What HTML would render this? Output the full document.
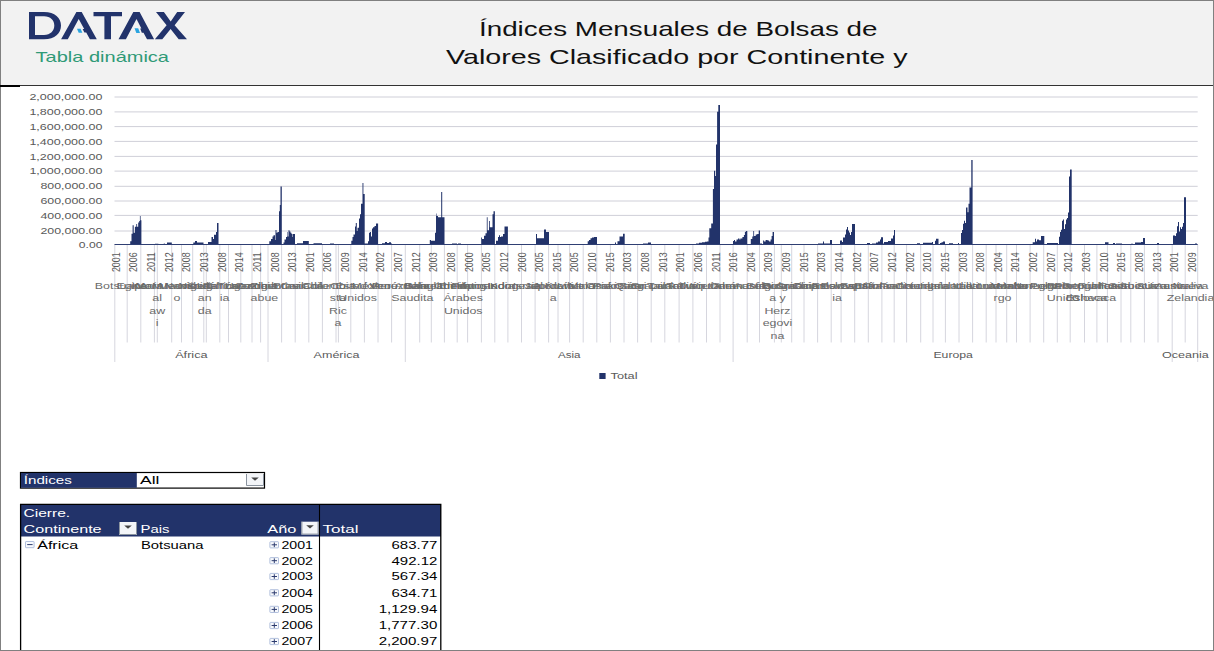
<!DOCTYPE html>
<html><head><meta charset="utf-8">
<style>
html,body{margin:0;padding:0;}
body{width:1214px;height:651px;overflow:hidden;position:relative;background:#fff;font-family:"Liberation Sans",sans-serif;}
svg text{font-family:"Liberation Sans",sans-serif;}
</style></head><body>
<svg width="1214" height="651" style="position:absolute;left:0;top:0">
<rect x="1" y="1" width="1212" height="84" fill="#f2f2f2"/>
<rect x="1" y="85" width="1212" height="1" fill="#333"/>

<text x="479.00" y="35.60" font-size="21" fill="#111" text-anchor="start" textLength="398.5" lengthAdjust="spacingAndGlyphs">Índices Mensuales de Bolsas de</text>
<text x="446.00" y="63.60" font-size="21" fill="#111" text-anchor="start" textLength="461.5" lengthAdjust="spacingAndGlyphs">Valores Clasificado por Continente y</text>
<path d="M29 12H44C55 12 61 18 61 25.6C61 33.5 55 39.3 44 39.3H29Z M35 16.3V35H44C50.5 35 54.3 31 54.3 25.6C54.3 20.2 50.5 16.3 44 16.3Z" fill="#22336b" fill-rule="evenodd"/>
<path d="M61.1 39.3L76.4 12H81.7L96.8 39.3H89.9L86.2 32.6H84.4L82.6 29H84.2L78.7 19L67.8 39.3Z" fill="#22336b"/>
<path d="M77 28.8H80.6L82.3 32.7H78.7Z" fill="#2aa4e0"/>
<path d="M93.5 11.9H122V16.2H111V39.3H104.4V16.2H93.5Z" fill="#22336b"/>
<path d="M118.5 39.3L133.3 12H139.6L154.1 39.3H147L143.5 32.8H141.8L140.2 28.4H141.4L136.5 19L125.9 39.3Z" fill="#22336b"/>
<path d="M134.5 28.3H138.2L140 33H136.3Z" fill="#2aa4e0"/>
<path d="M156 11.9H163.9L170.7 21.5L177.2 11.9H185L174.6 25.2L187 39.3H178.7L170.6 29L162.3 39.3H154.9L166.6 25.2Z" fill="#22336b"/>
<text x="35.60" y="61.90" font-size="15" fill="#2f9a77" text-anchor="start" textLength="133.4" lengthAdjust="spacingAndGlyphs">Tabla dinámica</text>
</svg>
<svg width="1214" height="651" style="position:absolute;left:0;top:0">
<line x1="114.5" x2="1197.7" y1="231.00" y2="231.00" stroke="#cfcfd8" stroke-width="1"/>
<line x1="114.5" x2="1197.7" y1="215.40" y2="215.40" stroke="#cfcfd8" stroke-width="1"/>
<line x1="114.5" x2="1197.7" y1="201.00" y2="201.00" stroke="#cfcfd8" stroke-width="1"/>
<line x1="114.5" x2="1197.7" y1="186.30" y2="186.30" stroke="#cfcfd8" stroke-width="1"/>
<line x1="114.5" x2="1197.7" y1="171.10" y2="171.10" stroke="#cfcfd8" stroke-width="1"/>
<line x1="114.5" x2="1197.7" y1="156.40" y2="156.40" stroke="#cfcfd8" stroke-width="1"/>
<line x1="114.5" x2="1197.7" y1="141.40" y2="141.40" stroke="#cfcfd8" stroke-width="1"/>
<line x1="114.5" x2="1197.7" y1="126.60" y2="126.60" stroke="#cfcfd8" stroke-width="1"/>
<line x1="114.5" x2="1197.7" y1="111.90" y2="111.90" stroke="#cfcfd8" stroke-width="1"/>
<line x1="114.5" x2="1197.7" y1="97.00" y2="97.00" stroke="#cfcfd8" stroke-width="1"/>
<line x1="127.2" x2="127.2" y1="244.5" y2="342.5" stroke="#d6d6de" stroke-width="1"/>
<line x1="140.8" x2="140.8" y1="244.5" y2="342.5" stroke="#d6d6de" stroke-width="1"/>
<line x1="154.4" x2="154.4" y1="244.5" y2="342.5" stroke="#d6d6de" stroke-width="1"/>
<line x1="157.3" x2="157.3" y1="244.5" y2="342.5" stroke="#d6d6de" stroke-width="1"/>
<line x1="171.7" x2="171.7" y1="244.5" y2="342.5" stroke="#d6d6de" stroke-width="1"/>
<line x1="181.5" x2="181.5" y1="244.5" y2="342.5" stroke="#d6d6de" stroke-width="1"/>
<line x1="192.7" x2="192.7" y1="244.5" y2="342.5" stroke="#d6d6de" stroke-width="1"/>
<line x1="203.8" x2="203.8" y1="244.5" y2="342.5" stroke="#d6d6de" stroke-width="1"/>
<line x1="206.3" x2="206.3" y1="244.5" y2="342.5" stroke="#d6d6de" stroke-width="1"/>
<line x1="219.8" x2="219.8" y1="244.5" y2="342.5" stroke="#d6d6de" stroke-width="1"/>
<line x1="228.5" x2="228.5" y1="244.5" y2="342.5" stroke="#d6d6de" stroke-width="1"/>
<line x1="240.8" x2="240.8" y1="244.5" y2="342.5" stroke="#d6d6de" stroke-width="1"/>
<line x1="252.0" x2="252.0" y1="244.5" y2="342.5" stroke="#d6d6de" stroke-width="1"/>
<line x1="260.6" x2="260.6" y1="244.5" y2="342.5" stroke="#d6d6de" stroke-width="1"/>
<line x1="281.6" x2="281.6" y1="244.5" y2="342.5" stroke="#d6d6de" stroke-width="1"/>
<line x1="295.2" x2="295.2" y1="244.5" y2="342.5" stroke="#d6d6de" stroke-width="1"/>
<line x1="308.8" x2="308.8" y1="244.5" y2="342.5" stroke="#d6d6de" stroke-width="1"/>
<line x1="322.4" x2="322.4" y1="244.5" y2="342.5" stroke="#d6d6de" stroke-width="1"/>
<line x1="336.0" x2="336.0" y1="244.5" y2="342.5" stroke="#d6d6de" stroke-width="1"/>
<line x1="338.4" x2="338.4" y1="244.5" y2="342.5" stroke="#d6d6de" stroke-width="1"/>
<line x1="350.8" x2="350.8" y1="244.5" y2="342.5" stroke="#d6d6de" stroke-width="1"/>
<line x1="364.4" x2="364.4" y1="244.5" y2="342.5" stroke="#d6d6de" stroke-width="1"/>
<line x1="378.0" x2="378.0" y1="244.5" y2="342.5" stroke="#d6d6de" stroke-width="1"/>
<line x1="391.6" x2="391.6" y1="244.5" y2="342.5" stroke="#d6d6de" stroke-width="1"/>
<line x1="419.7" x2="419.7" y1="244.5" y2="342.5" stroke="#d6d6de" stroke-width="1"/>
<line x1="431.3" x2="431.3" y1="244.5" y2="342.5" stroke="#d6d6de" stroke-width="1"/>
<line x1="444.4" x2="444.4" y1="244.5" y2="342.5" stroke="#d6d6de" stroke-width="1"/>
<line x1="457.2" x2="457.2" y1="244.5" y2="342.5" stroke="#d6d6de" stroke-width="1"/>
<line x1="467.6" x2="467.6" y1="244.5" y2="342.5" stroke="#d6d6de" stroke-width="1"/>
<line x1="481.4" x2="481.4" y1="244.5" y2="342.5" stroke="#d6d6de" stroke-width="1"/>
<line x1="494.8" x2="494.8" y1="244.5" y2="342.5" stroke="#d6d6de" stroke-width="1"/>
<line x1="507.9" x2="507.9" y1="244.5" y2="342.5" stroke="#d6d6de" stroke-width="1"/>
<line x1="521.5" x2="521.5" y1="244.5" y2="342.5" stroke="#d6d6de" stroke-width="1"/>
<line x1="535.1" x2="535.1" y1="244.5" y2="342.5" stroke="#d6d6de" stroke-width="1"/>
<line x1="548.6" x2="548.6" y1="244.5" y2="342.5" stroke="#d6d6de" stroke-width="1"/>
<line x1="558.0" x2="558.0" y1="244.5" y2="342.5" stroke="#d6d6de" stroke-width="1"/>
<line x1="569.6" x2="569.6" y1="244.5" y2="342.5" stroke="#d6d6de" stroke-width="1"/>
<line x1="583.2" x2="583.2" y1="244.5" y2="342.5" stroke="#d6d6de" stroke-width="1"/>
<line x1="596.8" x2="596.8" y1="244.5" y2="342.5" stroke="#d6d6de" stroke-width="1"/>
<line x1="610.4" x2="610.4" y1="244.5" y2="342.5" stroke="#d6d6de" stroke-width="1"/>
<line x1="624.0" x2="624.0" y1="244.5" y2="342.5" stroke="#d6d6de" stroke-width="1"/>
<line x1="637.6" x2="637.6" y1="244.5" y2="342.5" stroke="#d6d6de" stroke-width="1"/>
<line x1="651.2" x2="651.2" y1="244.5" y2="342.5" stroke="#d6d6de" stroke-width="1"/>
<line x1="664.8" x2="664.8" y1="244.5" y2="342.5" stroke="#d6d6de" stroke-width="1"/>
<line x1="679.1" x2="679.1" y1="244.5" y2="342.5" stroke="#d6d6de" stroke-width="1"/>
<line x1="692.9" x2="692.9" y1="244.5" y2="342.5" stroke="#d6d6de" stroke-width="1"/>
<line x1="706.5" x2="706.5" y1="244.5" y2="342.5" stroke="#d6d6de" stroke-width="1"/>
<line x1="720.0" x2="720.0" y1="244.5" y2="342.5" stroke="#d6d6de" stroke-width="1"/>
<line x1="747.2" x2="747.2" y1="244.5" y2="342.5" stroke="#d6d6de" stroke-width="1"/>
<line x1="759.5" x2="759.5" y1="244.5" y2="342.5" stroke="#d6d6de" stroke-width="1"/>
<line x1="774.4" x2="774.4" y1="244.5" y2="342.5" stroke="#d6d6de" stroke-width="1"/>
<line x1="781.3" x2="781.3" y1="244.5" y2="342.5" stroke="#d6d6de" stroke-width="1"/>
<line x1="791.7" x2="791.7" y1="244.5" y2="342.5" stroke="#d6d6de" stroke-width="1"/>
<line x1="804.0" x2="804.0" y1="244.5" y2="342.5" stroke="#d6d6de" stroke-width="1"/>
<line x1="817.6" x2="817.6" y1="244.5" y2="342.5" stroke="#d6d6de" stroke-width="1"/>
<line x1="831.2" x2="831.2" y1="244.5" y2="342.5" stroke="#d6d6de" stroke-width="1"/>
<line x1="841.1" x2="841.1" y1="244.5" y2="342.5" stroke="#d6d6de" stroke-width="1"/>
<line x1="854.7" x2="854.7" y1="244.5" y2="342.5" stroke="#d6d6de" stroke-width="1"/>
<line x1="868.3" x2="868.3" y1="244.5" y2="342.5" stroke="#d6d6de" stroke-width="1"/>
<line x1="881.9" x2="881.9" y1="244.5" y2="342.5" stroke="#d6d6de" stroke-width="1"/>
<line x1="894.2" x2="894.2" y1="244.5" y2="342.5" stroke="#d6d6de" stroke-width="1"/>
<line x1="906.6" x2="906.6" y1="244.5" y2="342.5" stroke="#d6d6de" stroke-width="1"/>
<line x1="920.7" x2="920.7" y1="244.5" y2="342.5" stroke="#d6d6de" stroke-width="1"/>
<line x1="933.0" x2="933.0" y1="244.5" y2="342.5" stroke="#d6d6de" stroke-width="1"/>
<line x1="945.4" x2="945.4" y1="244.5" y2="342.5" stroke="#d6d6de" stroke-width="1"/>
<line x1="959.0" x2="959.0" y1="244.5" y2="342.5" stroke="#d6d6de" stroke-width="1"/>
<line x1="972.6" x2="972.6" y1="244.5" y2="342.5" stroke="#d6d6de" stroke-width="1"/>
<line x1="986.2" x2="986.2" y1="244.5" y2="342.5" stroke="#d6d6de" stroke-width="1"/>
<line x1="996.0" x2="996.0" y1="244.5" y2="342.5" stroke="#d6d6de" stroke-width="1"/>
<line x1="1006.7" x2="1006.7" y1="244.5" y2="342.5" stroke="#d6d6de" stroke-width="1"/>
<line x1="1016.5" x2="1016.5" y1="244.5" y2="342.5" stroke="#d6d6de" stroke-width="1"/>
<line x1="1030.1" x2="1030.1" y1="244.5" y2="342.5" stroke="#d6d6de" stroke-width="1"/>
<line x1="1043.7" x2="1043.7" y1="244.5" y2="342.5" stroke="#d6d6de" stroke-width="1"/>
<line x1="1057.3" x2="1057.3" y1="244.5" y2="342.5" stroke="#d6d6de" stroke-width="1"/>
<line x1="1070.2" x2="1070.2" y1="244.5" y2="342.5" stroke="#d6d6de" stroke-width="1"/>
<line x1="1084.5" x2="1084.5" y1="244.5" y2="342.5" stroke="#d6d6de" stroke-width="1"/>
<line x1="1096.9" x2="1096.9" y1="244.5" y2="342.5" stroke="#d6d6de" stroke-width="1"/>
<line x1="1107.4" x2="1107.4" y1="244.5" y2="342.5" stroke="#d6d6de" stroke-width="1"/>
<line x1="1121.0" x2="1121.0" y1="244.5" y2="342.5" stroke="#d6d6de" stroke-width="1"/>
<line x1="1130.8" x2="1130.8" y1="244.5" y2="342.5" stroke="#d6d6de" stroke-width="1"/>
<line x1="1144.4" x2="1144.4" y1="244.5" y2="342.5" stroke="#d6d6de" stroke-width="1"/>
<line x1="1158.0" x2="1158.0" y1="244.5" y2="342.5" stroke="#d6d6de" stroke-width="1"/>
<line x1="1185.2" x2="1185.2" y1="244.5" y2="342.5" stroke="#d6d6de" stroke-width="1"/>
<line x1="114.8" x2="114.8" y1="244.5" y2="362" stroke="#d6d6de" stroke-width="1"/>
<line x1="268.0" x2="268.0" y1="244.5" y2="362" stroke="#d6d6de" stroke-width="1"/>
<line x1="405.3" x2="405.3" y1="244.5" y2="362" stroke="#d6d6de" stroke-width="1"/>
<line x1="733.1" x2="733.1" y1="244.5" y2="362" stroke="#d6d6de" stroke-width="1"/>
<line x1="1172.2" x2="1172.2" y1="244.5" y2="362" stroke="#d6d6de" stroke-width="1"/>
<line x1="1197.7" x2="1197.7" y1="244.5" y2="362" stroke="#d6d6de" stroke-width="1"/>
<path d="M130.2 244.5V241.3H131.5V244.5ZM131.5 244.5V233.8H132.6V244.5ZM132.6 244.5V225.2H133.7V244.5ZM133.7 244.5V232.7H134.9V244.5ZM134.9 244.5V226.8H136.3V244.5ZM136.3 244.5V224.1H137.1V244.5ZM137.1 244.5V226.8H138.2V244.5ZM138.2 244.5V222.5H139.2V244.5ZM139.2 244.5V220.9H139.9V244.5ZM139.9 244.5V216.0H140.6V244.5ZM140.6 244.5V220.3H141.4V244.5ZM155.0 244.5V243.7H158.4V244.5ZM163.8 244.5V243.5H164.8V244.5ZM167.0 244.5V242.4H171.8V244.5ZM193.3 244.5V242.5H195.0V244.5ZM195.0 244.5V241.0H197.0V244.5ZM197.0 244.5V242.5H203.5V244.5ZM208.0 244.5V242.0H211.5V244.5ZM211.5 244.5V237.0H213.0V244.5ZM213.0 244.5V239.0H214.0V244.5ZM214.0 244.5V234.8H216.0V244.5ZM216.0 244.5V232.0H217.0V244.5ZM217.0 244.5V223.0H218.5V244.5ZM269.3 244.5V241.3H271.0V244.5ZM271.0 244.5V238.9H272.5V244.5ZM272.5 244.5V236.4H273.5V244.5ZM273.5 244.5V235.2H275.0V244.5ZM275.0 244.5V240.0H275.5V244.5ZM275.5 244.5V230.0H276.5V244.5ZM276.5 244.5V232.7H277.5V244.5ZM277.5 244.5V232.1H279.0V244.5ZM279.0 244.5V211.2H279.8V244.5ZM279.8 244.5V205.0H280.5V244.5ZM280.5 244.5V186.6H281.8V244.5ZM283.5 244.5V242.5H284.5V244.5ZM284.5 244.5V239.5H286.0V244.5ZM286.0 244.5V237.0H287.0V244.5ZM287.0 244.5V232.0H287.5V244.5ZM287.5 244.5V236.4H288.5V244.5ZM288.5 244.5V230.2H289.5V244.5ZM289.5 244.5V231.5H290.5V244.5ZM290.5 244.5V232.7H291.5V244.5ZM291.5 244.5V234.0H292.5V244.5ZM292.5 244.5V237.0H293.0V244.5ZM293.0 244.5V234.0H295.0V244.5ZM297.0 244.5V243.2H303.0V244.5ZM303.0 244.5V241.0H308.8V244.5ZM313.5 244.5V243.2H322.0V244.5ZM330.0 244.5V243.4H334.0V244.5ZM351.3 244.5V240.7H352.5V244.5ZM352.5 244.5V237.0H353.5V244.5ZM353.5 244.5V234.5H355.0V244.5ZM355.0 244.5V226.6H355.8V244.5ZM355.8 244.5V222.9H356.8V244.5ZM356.8 244.5V230.9H357.5V244.5ZM357.5 244.5V227.8H359.0V244.5ZM359.0 244.5V218.6H360.0V244.5ZM360.0 244.5V214.3H361.0V244.5ZM361.0 244.5V203.8H362.5V244.5ZM362.5 244.5V182.9H363.4V244.5ZM363.4 244.5V194.0H364.7V244.5ZM364.7 244.5V243.4H368.0V244.5ZM368.0 244.5V241.3H369.0V244.5ZM369.0 244.5V232.7H370.0V244.5ZM370.0 244.5V232.1H371.0V244.5ZM371.0 244.5V236.4H372.0V244.5ZM372.0 244.5V228.4H373.0V244.5ZM373.0 244.5V227.2H374.5V244.5ZM374.5 244.5V226.0H376.0V244.5ZM376.0 244.5V223.5H378.1V244.5ZM382.0 244.5V243.2H385.0V244.5ZM385.0 244.5V242.0H387.0V244.5ZM387.0 244.5V243.0H389.0V244.5ZM389.0 244.5V242.3H391.0V244.5ZM391.0 244.5V243.4H392.0V244.5ZM429.8 244.5V240.0H431.0V244.5ZM431.0 244.5V240.7H435.0V244.5ZM435.0 244.5V232.7H436.0V244.5ZM436.0 244.5V213.6H436.5V244.5ZM436.5 244.5V216.0H438.0V244.5ZM438.0 244.5V217.3H441.2V244.5ZM441.2 244.5V192.0H442.2V244.5ZM442.2 244.5V217.3H444.5V244.5ZM452.0 244.5V243.5H457.0V244.5ZM455.0 244.5V243.5H456.5V244.5ZM458.0 244.5V243.6H461.0V244.5ZM481.2 244.5V237.6H482.0V244.5ZM482.0 244.5V238.9H484.0V244.5ZM484.0 244.5V235.8H485.5V244.5ZM485.5 244.5V233.3H486.8V244.5ZM486.8 244.5V217.3H487.6V244.5ZM487.6 244.5V230.2H489.0V244.5ZM489.0 244.5V221.0H489.8V244.5ZM489.8 244.5V227.2H492.5V244.5ZM492.5 244.5V214.3H493.5V244.5ZM493.5 244.5V211.2H494.9V244.5ZM496.0 244.5V240.7H498.0V244.5ZM498.0 244.5V237.0H499.0V244.5ZM499.0 244.5V235.2H500.0V244.5ZM500.0 244.5V237.0H501.0V244.5ZM501.0 244.5V236.4H503.0V244.5ZM503.0 244.5V234.0H504.5V244.5ZM504.5 244.5V226.6H507.9V244.5ZM536.0 244.5V234.0H537.0V244.5ZM537.0 244.5V238.2H544.0V244.5ZM544.0 244.5V229.6H546.0V244.5ZM546.0 244.5V232.0H549.0V244.5ZM587.7 244.5V241.3H589.0V244.5ZM589.0 244.5V240.1H590.5V244.5ZM590.5 244.5V238.2H592.0V244.5ZM592.0 244.5V237.4H594.0V244.5ZM594.0 244.5V237.0H597.0V244.5ZM615.0 244.5V242.5H616.0V244.5ZM617.5 244.5V241.3H619.5V244.5ZM619.5 244.5V236.4H623.0V244.5ZM623.0 244.5V233.7H624.7V244.5ZM643.0 244.5V243.5H648.0V244.5ZM648.0 244.5V242.5H651.0V244.5ZM696.0 244.5V243.4H699.0V244.5ZM699.0 244.5V242.7H702.0V244.5ZM702.0 244.5V242.2H705.0V244.5ZM705.0 244.5V241.8H707.0V244.5ZM707.0 244.5V241.4H708.5V244.5ZM708.5 244.5V237.4H709.3V244.5ZM709.3 244.5V228.3H711.2V244.5ZM711.2 244.5V223.6H712.9V244.5ZM712.9 244.5V189.0H714.0V244.5ZM714.0 244.5V170.7H715.2V244.5ZM715.2 244.5V176.0H716.0V244.5ZM716.0 244.5V144.5H717.1V244.5ZM717.1 244.5V111.7H718.3V244.5ZM718.3 244.5V105.0H720.0V244.5ZM733.0 244.5V240.9H734.0V244.5ZM734.0 244.5V239.9H735.0V244.5ZM735.0 244.5V241.4H736.5V244.5ZM736.5 244.5V239.4H738.0V244.5ZM738.0 244.5V238.4H739.4V244.5ZM739.4 244.5V239.4H740.4V244.5ZM740.4 244.5V238.4H742.4V244.5ZM742.4 244.5V237.0H743.9V244.5ZM743.9 244.5V235.0H744.9V244.5ZM744.9 244.5V232.0H745.8V244.5ZM745.8 244.5V231.0H747.3V244.5ZM750.8 244.5V238.9H752.3V244.5ZM752.3 244.5V236.5H753.3V244.5ZM753.3 244.5V231.0H754.1V244.5ZM754.1 244.5V236.0H755.7V244.5ZM755.7 244.5V234.5H757.2V244.5ZM757.2 244.5V234.0H758.7V244.5ZM758.7 244.5V230.5H760.0V244.5ZM760.0 244.5V243.6H762.0V244.5ZM763.1 244.5V240.4H764.1V244.5ZM764.1 244.5V241.4H765.6V244.5ZM765.6 244.5V239.9H767.6V244.5ZM767.6 244.5V240.4H769.1V244.5ZM769.1 244.5V241.4H770.6V244.5ZM770.6 244.5V239.4H771.6V244.5ZM771.6 244.5V236.0H772.6V244.5ZM772.6 244.5V232.0H774.0V244.5ZM818.0 244.5V243.4H823.0V244.5ZM823.0 244.5V241.4H824.0V244.5ZM824.0 244.5V243.4H830.0V244.5ZM830.0 244.5V240.0H832.0V244.5ZM840.0 244.5V240.4H842.0V244.5ZM842.0 244.5V241.9H843.0V244.5ZM843.0 244.5V237.4H845.0V244.5ZM845.0 244.5V234.5H846.0V244.5ZM846.0 244.5V229.5H847.0V244.5ZM847.0 244.5V227.0H848.0V244.5ZM848.0 244.5V230.5H849.0V244.5ZM849.0 244.5V232.5H850.0V244.5ZM850.0 244.5V235.0H851.0V244.5ZM851.0 244.5V232.0H852.0V244.5ZM852.0 244.5V224.0H855.0V244.5ZM867.0 244.5V242.9H870.0V244.5ZM872.0 244.5V243.4H876.0V244.5ZM876.0 244.5V242.4H878.0V244.5ZM878.0 244.5V241.4H880.0V244.5ZM880.0 244.5V239.4H881.0V244.5ZM881.0 244.5V237.2H883.0V244.5ZM883.0 244.5V243.4H884.0V244.5ZM884.0 244.5V241.9H888.0V244.5ZM888.0 244.5V240.9H891.0V244.5ZM891.0 244.5V238.4H893.0V244.5ZM893.0 244.5V235.5H894.0V244.5ZM894.0 244.5V230.0H895.0V244.5ZM917.0 244.5V243.2H920.0V244.5ZM923.0 244.5V242.8H932.0V244.5ZM932.0 244.5V241.9H933.0V244.5ZM935.0 244.5V240.7H936.0V244.5ZM936.0 244.5V238.8H938.5V244.5ZM940.0 244.5V243.0H941.5V244.5ZM941.5 244.5V242.2H943.0V244.5ZM943.0 244.5V241.4H945.0V244.5ZM949.0 244.5V243.2H953.0V244.5ZM958.0 244.5V243.0H959.0V244.5ZM961.0 244.5V233.0H962.0V244.5ZM962.0 244.5V229.9H963.0V244.5ZM963.0 244.5V223.8H964.0V244.5ZM964.0 244.5V220.7H965.0V244.5ZM965.0 244.5V223.0H966.0V244.5ZM966.0 244.5V207.6H967.5V244.5ZM967.5 244.5V212.2H968.5V244.5ZM968.5 244.5V203.8H969.5V244.5ZM969.5 244.5V187.6H971.3V244.5ZM971.3 244.5V160.0H972.6V244.5ZM1032.7 244.5V242.3H1035.0V244.5ZM1035.0 244.5V238.8H1036.0V244.5ZM1036.0 244.5V241.6H1037.0V244.5ZM1037.0 244.5V239.5H1039.0V244.5ZM1039.0 244.5V240.2H1041.0V244.5ZM1041.0 244.5V236.0H1044.3V244.5ZM1047.0 244.5V243.0H1058.0V244.5ZM1059.0 244.5V236.7H1060.0V244.5ZM1060.0 244.5V231.9H1061.0V244.5ZM1061.0 244.5V229.8H1062.0V244.5ZM1062.0 244.5V220.8H1063.0V244.5ZM1063.0 244.5V219.4H1064.0V244.5ZM1064.0 244.5V229.1H1065.0V244.5ZM1065.0 244.5V224.3H1066.0V244.5ZM1066.0 244.5V219.4H1067.0V244.5ZM1067.0 244.5V218.0H1068.0V244.5ZM1068.0 244.5V212.5H1069.0V244.5ZM1069.0 244.5V176.6H1070.0V244.5ZM1070.0 244.5V169.4H1071.7V244.5ZM1105.0 244.5V242.2H1108.5V244.5ZM1113.0 244.5V242.9H1115.0V244.5ZM1116.0 244.5V243.5H1122.0V244.5ZM1131.0 244.5V243.8H1133.0V244.5ZM1135.0 244.5V242.4H1141.0V244.5ZM1141.0 244.5V242.0H1143.0V244.5ZM1143.0 244.5V238.0H1145.0V244.5ZM1157.0 244.5V242.9H1159.0V244.5ZM1173.0 244.5V235.4H1175.0V244.5ZM1175.0 244.5V235.9H1176.0V244.5ZM1176.0 244.5V233.2H1177.0V244.5ZM1177.0 244.5V226.2H1178.0V244.5ZM1178.0 244.5V221.9H1179.0V244.5ZM1179.0 244.5V231.6H1180.0V244.5ZM1180.0 244.5V227.3H1181.0V244.5ZM1181.0 244.5V228.9H1182.0V244.5ZM1182.0 244.5V226.8H1183.0V244.5ZM1183.0 244.5V223.0H1184.0V244.5ZM1184.0 244.5V197.2H1186.0V244.5ZM1195.0 244.5V243.5H1197.0V244.5Z" fill="#22336a"/>
<line x1="114.5" x2="1197.7" y1="244.5" y2="244.5" stroke="#2f3f73" stroke-width="1.2"/>
<text x="102.4" y="247.50" text-anchor="end" font-size="8.5" fill="#595959" textLength="23.6" lengthAdjust="spacingAndGlyphs">0.00</text>
<text x="102.4" y="234.10" text-anchor="end" font-size="8.5" fill="#595959" textLength="62.0" lengthAdjust="spacingAndGlyphs">200,000.00</text>
<text x="102.4" y="218.70" text-anchor="end" font-size="8.5" fill="#595959" textLength="62.0" lengthAdjust="spacingAndGlyphs">400,000.00</text>
<text x="102.4" y="204.10" text-anchor="end" font-size="8.5" fill="#595959" textLength="62.0" lengthAdjust="spacingAndGlyphs">600,000.00</text>
<text x="102.4" y="189.40" text-anchor="end" font-size="8.5" fill="#595959" textLength="62.0" lengthAdjust="spacingAndGlyphs">800,000.00</text>
<text x="102.4" y="174.20" text-anchor="end" font-size="8.5" fill="#595959" textLength="73.0" lengthAdjust="spacingAndGlyphs">1,000,000.00</text>
<text x="102.4" y="159.50" text-anchor="end" font-size="8.5" fill="#595959" textLength="73.0" lengthAdjust="spacingAndGlyphs">1,200,000.00</text>
<text x="102.4" y="144.50" text-anchor="end" font-size="8.5" fill="#595959" textLength="73.0" lengthAdjust="spacingAndGlyphs">1,400,000.00</text>
<text x="102.4" y="129.70" text-anchor="end" font-size="8.5" fill="#595959" textLength="73.0" lengthAdjust="spacingAndGlyphs">1,600,000.00</text>
<text x="102.4" y="115.00" text-anchor="end" font-size="8.5" fill="#595959" textLength="73.0" lengthAdjust="spacingAndGlyphs">1,800,000.00</text>
<text x="102.4" y="100.10" text-anchor="end" font-size="8.5" fill="#595959" textLength="73.0" lengthAdjust="spacingAndGlyphs">2,000,000.00</text>
<text transform="translate(119.80,272.1) rotate(-90)" font-size="11" fill="#595959" textLength="19.8" lengthAdjust="spacingAndGlyphs">2001</text>
<text transform="translate(137.44,272.1) rotate(-90)" font-size="11" fill="#595959" textLength="19.8" lengthAdjust="spacingAndGlyphs">2006</text>
<text transform="translate(155.08,272.1) rotate(-90)" font-size="11" fill="#595959" textLength="19.8" lengthAdjust="spacingAndGlyphs">2011</text>
<text transform="translate(172.72,272.1) rotate(-90)" font-size="11" fill="#595959" textLength="19.8" lengthAdjust="spacingAndGlyphs">2012</text>
<text transform="translate(190.36,272.1) rotate(-90)" font-size="11" fill="#595959" textLength="19.8" lengthAdjust="spacingAndGlyphs">2008</text>
<text transform="translate(208.00,272.1) rotate(-90)" font-size="11" fill="#595959" textLength="19.8" lengthAdjust="spacingAndGlyphs">2013</text>
<text transform="translate(225.64,272.1) rotate(-90)" font-size="11" fill="#595959" textLength="19.8" lengthAdjust="spacingAndGlyphs">2008</text>
<text transform="translate(243.28,272.1) rotate(-90)" font-size="11" fill="#595959" textLength="19.8" lengthAdjust="spacingAndGlyphs">2014</text>
<text transform="translate(260.92,272.1) rotate(-90)" font-size="11" fill="#595959" textLength="19.8" lengthAdjust="spacingAndGlyphs">2011</text>
<text transform="translate(278.56,272.1) rotate(-90)" font-size="11" fill="#595959" textLength="19.8" lengthAdjust="spacingAndGlyphs">2008</text>
<text transform="translate(296.20,272.1) rotate(-90)" font-size="11" fill="#595959" textLength="19.8" lengthAdjust="spacingAndGlyphs">2013</text>
<text transform="translate(313.84,272.1) rotate(-90)" font-size="11" fill="#595959" textLength="19.8" lengthAdjust="spacingAndGlyphs">2001</text>
<text transform="translate(331.48,272.1) rotate(-90)" font-size="11" fill="#595959" textLength="19.8" lengthAdjust="spacingAndGlyphs">2006</text>
<text transform="translate(349.12,272.1) rotate(-90)" font-size="11" fill="#595959" textLength="19.8" lengthAdjust="spacingAndGlyphs">2009</text>
<text transform="translate(366.76,272.1) rotate(-90)" font-size="11" fill="#595959" textLength="19.8" lengthAdjust="spacingAndGlyphs">2014</text>
<text transform="translate(384.40,272.1) rotate(-90)" font-size="11" fill="#595959" textLength="19.8" lengthAdjust="spacingAndGlyphs">2002</text>
<text transform="translate(402.04,272.1) rotate(-90)" font-size="11" fill="#595959" textLength="19.8" lengthAdjust="spacingAndGlyphs">2007</text>
<text transform="translate(419.68,272.1) rotate(-90)" font-size="11" fill="#595959" textLength="19.8" lengthAdjust="spacingAndGlyphs">2012</text>
<text transform="translate(437.32,272.1) rotate(-90)" font-size="11" fill="#595959" textLength="19.8" lengthAdjust="spacingAndGlyphs">2003</text>
<text transform="translate(454.96,272.1) rotate(-90)" font-size="11" fill="#595959" textLength="19.8" lengthAdjust="spacingAndGlyphs">2008</text>
<text transform="translate(472.60,272.1) rotate(-90)" font-size="11" fill="#595959" textLength="19.8" lengthAdjust="spacingAndGlyphs">2000</text>
<text transform="translate(490.24,272.1) rotate(-90)" font-size="11" fill="#595959" textLength="19.8" lengthAdjust="spacingAndGlyphs">2005</text>
<text transform="translate(507.88,272.1) rotate(-90)" font-size="11" fill="#595959" textLength="19.8" lengthAdjust="spacingAndGlyphs">2012</text>
<text transform="translate(525.52,272.1) rotate(-90)" font-size="11" fill="#595959" textLength="19.8" lengthAdjust="spacingAndGlyphs">2000</text>
<text transform="translate(543.16,272.1) rotate(-90)" font-size="11" fill="#595959" textLength="19.8" lengthAdjust="spacingAndGlyphs">2005</text>
<text transform="translate(560.80,272.1) rotate(-90)" font-size="11" fill="#595959" textLength="19.8" lengthAdjust="spacingAndGlyphs">2015</text>
<text transform="translate(578.44,272.1) rotate(-90)" font-size="11" fill="#595959" textLength="19.8" lengthAdjust="spacingAndGlyphs">2005</text>
<text transform="translate(596.08,272.1) rotate(-90)" font-size="11" fill="#595959" textLength="19.8" lengthAdjust="spacingAndGlyphs">2010</text>
<text transform="translate(613.72,272.1) rotate(-90)" font-size="11" fill="#595959" textLength="19.8" lengthAdjust="spacingAndGlyphs">2015</text>
<text transform="translate(631.36,272.1) rotate(-90)" font-size="11" fill="#595959" textLength="19.8" lengthAdjust="spacingAndGlyphs">2003</text>
<text transform="translate(649.00,272.1) rotate(-90)" font-size="11" fill="#595959" textLength="19.8" lengthAdjust="spacingAndGlyphs">2008</text>
<text transform="translate(666.64,272.1) rotate(-90)" font-size="11" fill="#595959" textLength="19.8" lengthAdjust="spacingAndGlyphs">2013</text>
<text transform="translate(684.28,272.1) rotate(-90)" font-size="11" fill="#595959" textLength="19.8" lengthAdjust="spacingAndGlyphs">2001</text>
<text transform="translate(701.92,272.1) rotate(-90)" font-size="11" fill="#595959" textLength="19.8" lengthAdjust="spacingAndGlyphs">2006</text>
<text transform="translate(719.56,272.1) rotate(-90)" font-size="11" fill="#595959" textLength="19.8" lengthAdjust="spacingAndGlyphs">2011</text>
<text transform="translate(737.20,272.1) rotate(-90)" font-size="11" fill="#595959" textLength="19.8" lengthAdjust="spacingAndGlyphs">2016</text>
<text transform="translate(754.84,272.1) rotate(-90)" font-size="11" fill="#595959" textLength="19.8" lengthAdjust="spacingAndGlyphs">2004</text>
<text transform="translate(772.48,272.1) rotate(-90)" font-size="11" fill="#595959" textLength="19.8" lengthAdjust="spacingAndGlyphs">2009</text>
<text transform="translate(790.12,272.1) rotate(-90)" font-size="11" fill="#595959" textLength="19.8" lengthAdjust="spacingAndGlyphs">2009</text>
<text transform="translate(807.76,272.1) rotate(-90)" font-size="11" fill="#595959" textLength="19.8" lengthAdjust="spacingAndGlyphs">2015</text>
<text transform="translate(825.40,272.1) rotate(-90)" font-size="11" fill="#595959" textLength="19.8" lengthAdjust="spacingAndGlyphs">2003</text>
<text transform="translate(843.04,272.1) rotate(-90)" font-size="11" fill="#595959" textLength="19.8" lengthAdjust="spacingAndGlyphs">2014</text>
<text transform="translate(860.68,272.1) rotate(-90)" font-size="11" fill="#595959" textLength="19.8" lengthAdjust="spacingAndGlyphs">2002</text>
<text transform="translate(878.32,272.1) rotate(-90)" font-size="11" fill="#595959" textLength="19.8" lengthAdjust="spacingAndGlyphs">2007</text>
<text transform="translate(895.96,272.1) rotate(-90)" font-size="11" fill="#595959" textLength="19.8" lengthAdjust="spacingAndGlyphs">2012</text>
<text transform="translate(913.60,272.1) rotate(-90)" font-size="11" fill="#595959" textLength="19.8" lengthAdjust="spacingAndGlyphs">2002</text>
<text transform="translate(931.24,272.1) rotate(-90)" font-size="11" fill="#595959" textLength="19.8" lengthAdjust="spacingAndGlyphs">2010</text>
<text transform="translate(948.88,272.1) rotate(-90)" font-size="11" fill="#595959" textLength="19.8" lengthAdjust="spacingAndGlyphs">2015</text>
<text transform="translate(966.52,272.1) rotate(-90)" font-size="11" fill="#595959" textLength="19.8" lengthAdjust="spacingAndGlyphs">2003</text>
<text transform="translate(984.16,272.1) rotate(-90)" font-size="11" fill="#595959" textLength="19.8" lengthAdjust="spacingAndGlyphs">2008</text>
<text transform="translate(1001.80,272.1) rotate(-90)" font-size="11" fill="#595959" textLength="19.8" lengthAdjust="spacingAndGlyphs">2004</text>
<text transform="translate(1019.44,272.1) rotate(-90)" font-size="11" fill="#595959" textLength="19.8" lengthAdjust="spacingAndGlyphs">2014</text>
<text transform="translate(1037.08,272.1) rotate(-90)" font-size="11" fill="#595959" textLength="19.8" lengthAdjust="spacingAndGlyphs">2002</text>
<text transform="translate(1054.72,272.1) rotate(-90)" font-size="11" fill="#595959" textLength="19.8" lengthAdjust="spacingAndGlyphs">2007</text>
<text transform="translate(1072.36,272.1) rotate(-90)" font-size="11" fill="#595959" textLength="19.8" lengthAdjust="spacingAndGlyphs">2012</text>
<text transform="translate(1090.00,272.1) rotate(-90)" font-size="11" fill="#595959" textLength="19.8" lengthAdjust="spacingAndGlyphs">2003</text>
<text transform="translate(1107.64,272.1) rotate(-90)" font-size="11" fill="#595959" textLength="19.8" lengthAdjust="spacingAndGlyphs">2010</text>
<text transform="translate(1125.28,272.1) rotate(-90)" font-size="11" fill="#595959" textLength="19.8" lengthAdjust="spacingAndGlyphs">2015</text>
<text transform="translate(1142.92,272.1) rotate(-90)" font-size="11" fill="#595959" textLength="19.8" lengthAdjust="spacingAndGlyphs">2008</text>
<text transform="translate(1160.56,272.1) rotate(-90)" font-size="11" fill="#595959" textLength="19.8" lengthAdjust="spacingAndGlyphs">2013</text>
<text transform="translate(1178.20,272.1) rotate(-90)" font-size="11" fill="#595959" textLength="19.8" lengthAdjust="spacingAndGlyphs">2001</text>
<text transform="translate(1195.84,272.1) rotate(-90)" font-size="11" fill="#595959" textLength="19.8" lengthAdjust="spacingAndGlyphs">2009</text>

<text x="121.00" y="288.90" font-size="8.6" fill="#6a6a6a" text-anchor="middle" textLength="52.4" lengthAdjust="spacingAndGlyphs">Botsuana</text>
<text x="134.00" y="288.90" font-size="8.6" fill="#6a6a6a" text-anchor="middle" textLength="35.2" lengthAdjust="spacingAndGlyphs">Egipto</text>
<text x="147.60" y="288.90" font-size="8.6" fill="#6a6a6a" text-anchor="middle" textLength="31.7" lengthAdjust="spacingAndGlyphs">Kenia</text>
<text x="157.20" y="288.90" font-size="8.6" fill="#6a6a6a" text-anchor="middle" textLength="10.3" lengthAdjust="spacingAndGlyphs">M</text>
<text x="157.20" y="301.40" font-size="8.6" fill="#6a6a6a" text-anchor="middle" textLength="9.7" lengthAdjust="spacingAndGlyphs">al</text>
<text x="157.20" y="313.90" font-size="8.6" fill="#6a6a6a" text-anchor="middle" textLength="15.9" lengthAdjust="spacingAndGlyphs">aw</text>
<text x="157.20" y="326.40" font-size="8.6" fill="#6a6a6a" text-anchor="middle" textLength="2.8" lengthAdjust="spacingAndGlyphs">i</text>
<text x="164.50" y="288.90" font-size="8.6" fill="#6a6a6a" text-anchor="middle" textLength="58.6" lengthAdjust="spacingAndGlyphs">Marruecos</text>
<text x="177.00" y="288.90" font-size="8.6" fill="#6a6a6a" text-anchor="middle" textLength="37.2" lengthAdjust="spacingAndGlyphs">Mauric</text>
<text x="177.00" y="301.40" font-size="8.6" fill="#6a6a6a" text-anchor="middle" textLength="6.9" lengthAdjust="spacingAndGlyphs">o</text>
<text x="187.00" y="288.90" font-size="8.6" fill="#6a6a6a" text-anchor="middle" textLength="45.5" lengthAdjust="spacingAndGlyphs">Namibia</text>
<text x="198.00" y="288.90" font-size="8.6" fill="#6a6a6a" text-anchor="middle" textLength="39.3" lengthAdjust="spacingAndGlyphs">Nigeria</text>
<text x="204.70" y="288.90" font-size="8.6" fill="#6a6a6a" text-anchor="middle" textLength="15.9" lengthAdjust="spacingAndGlyphs">Ug</text>
<text x="204.70" y="301.40" font-size="8.6" fill="#6a6a6a" text-anchor="middle" textLength="13.8" lengthAdjust="spacingAndGlyphs">an</text>
<text x="204.70" y="313.90" font-size="8.6" fill="#6a6a6a" text-anchor="middle" textLength="13.8" lengthAdjust="spacingAndGlyphs">da</text>
<text x="213.00" y="288.90" font-size="8.6" fill="#6a6a6a" text-anchor="middle" textLength="52.4" lengthAdjust="spacingAndGlyphs">Sudáfrica</text>
<text x="224.50" y="288.90" font-size="8.6" fill="#6a6a6a" text-anchor="middle" textLength="40.0" lengthAdjust="spacingAndGlyphs">Tanzan</text>
<text x="224.50" y="301.40" font-size="8.6" fill="#6a6a6a" text-anchor="middle" textLength="9.7" lengthAdjust="spacingAndGlyphs">ia</text>
<text x="234.60" y="288.90" font-size="8.6" fill="#6a6a6a" text-anchor="middle" textLength="34.5" lengthAdjust="spacingAndGlyphs">Túnez</text>
<text x="246.40" y="288.90" font-size="8.6" fill="#6a6a6a" text-anchor="middle" textLength="43.4" lengthAdjust="spacingAndGlyphs">Uganda</text>
<text x="256.30" y="288.90" font-size="8.6" fill="#6a6a6a" text-anchor="middle" textLength="41.3" lengthAdjust="spacingAndGlyphs">Zambia</text>
<text x="264.40" y="288.90" font-size="8.6" fill="#6a6a6a" text-anchor="middle" textLength="27.6" lengthAdjust="spacingAndGlyphs">Zimb</text>
<text x="264.40" y="301.40" font-size="8.6" fill="#6a6a6a" text-anchor="middle" textLength="27.6" lengthAdjust="spacingAndGlyphs">abue</text>
<text x="274.80" y="288.90" font-size="8.6" fill="#6a6a6a" text-anchor="middle" textLength="53.1" lengthAdjust="spacingAndGlyphs">Argentina</text>
<text x="288.40" y="288.90" font-size="8.6" fill="#6a6a6a" text-anchor="middle" textLength="31.0" lengthAdjust="spacingAndGlyphs">Brasil</text>
<text x="302.00" y="288.90" font-size="8.6" fill="#6a6a6a" text-anchor="middle" textLength="43.4" lengthAdjust="spacingAndGlyphs">Canadá</text>
<text x="315.60" y="288.90" font-size="8.6" fill="#6a6a6a" text-anchor="middle" textLength="28.3" lengthAdjust="spacingAndGlyphs">Chile</text>
<text x="329.20" y="288.90" font-size="8.6" fill="#6a6a6a" text-anchor="middle" textLength="52.4" lengthAdjust="spacingAndGlyphs">Colombia</text>
<text x="338.00" y="288.90" font-size="8.6" fill="#6a6a6a" text-anchor="middle" textLength="15.9" lengthAdjust="spacingAndGlyphs">Co</text>
<text x="338.00" y="301.40" font-size="8.6" fill="#6a6a6a" text-anchor="middle" textLength="16.5" lengthAdjust="spacingAndGlyphs">sta</text>
<text x="338.00" y="313.90" font-size="8.6" fill="#6a6a6a" text-anchor="middle" textLength="17.9" lengthAdjust="spacingAndGlyphs">Ric</text>
<text x="338.00" y="326.40" font-size="8.6" fill="#6a6a6a" text-anchor="middle" textLength="6.9" lengthAdjust="spacingAndGlyphs">a</text>
<text x="357.60" y="288.90" font-size="8.6" fill="#6a6a6a" text-anchor="middle" textLength="44.8" lengthAdjust="spacingAndGlyphs">Estados</text>
<text x="357.60" y="301.40" font-size="8.6" fill="#6a6a6a" text-anchor="middle" textLength="38.6" lengthAdjust="spacingAndGlyphs">Unidos</text>
<text x="371.20" y="288.90" font-size="8.6" fill="#6a6a6a" text-anchor="middle" textLength="39.3" lengthAdjust="spacingAndGlyphs">México</text>
<text x="384.80" y="288.90" font-size="8.6" fill="#6a6a6a" text-anchor="middle" textLength="26.2" lengthAdjust="spacingAndGlyphs">Perú</text>
<text x="398.40" y="288.90" font-size="8.6" fill="#6a6a6a" text-anchor="middle" textLength="57.9" lengthAdjust="spacingAndGlyphs">Venezuela</text>
<text x="412.30" y="288.90" font-size="8.6" fill="#6a6a6a" text-anchor="middle" textLength="35.8" lengthAdjust="spacingAndGlyphs">Arabia</text>
<text x="412.30" y="301.40" font-size="8.6" fill="#6a6a6a" text-anchor="middle" textLength="42.1" lengthAdjust="spacingAndGlyphs">Saudita</text>
<text x="425.00" y="288.90" font-size="8.6" fill="#6a6a6a" text-anchor="middle" textLength="42.7" lengthAdjust="spacingAndGlyphs">Bahrein</text>
<text x="437.40" y="288.90" font-size="8.6" fill="#6a6a6a" text-anchor="middle" textLength="65.5" lengthAdjust="spacingAndGlyphs">Bangladesh</text>
<text x="450.30" y="288.90" font-size="8.6" fill="#6a6a6a" text-anchor="middle" textLength="32.4" lengthAdjust="spacingAndGlyphs">China</text>
<text x="463.20" y="288.90" font-size="8.6" fill="#6a6a6a" text-anchor="middle" textLength="48.9" lengthAdjust="spacingAndGlyphs">Emiratos</text>
<text x="463.20" y="301.40" font-size="8.6" fill="#6a6a6a" text-anchor="middle" textLength="39.3" lengthAdjust="spacingAndGlyphs">Árabes</text>
<text x="463.20" y="313.90" font-size="8.6" fill="#6a6a6a" text-anchor="middle" textLength="38.6" lengthAdjust="spacingAndGlyphs">Unidos</text>
<text x="474.00" y="288.90" font-size="8.6" fill="#6a6a6a" text-anchor="middle" textLength="45.5" lengthAdjust="spacingAndGlyphs">Filipinas</text>
<text x="487.60" y="288.90" font-size="8.6" fill="#6a6a6a" text-anchor="middle" textLength="62.0" lengthAdjust="spacingAndGlyphs">Hong Kong</text>
<text x="500.90" y="288.90" font-size="8.6" fill="#6a6a6a" text-anchor="middle" textLength="26.9" lengthAdjust="spacingAndGlyphs">India</text>
<text x="514.20" y="288.90" font-size="8.6" fill="#6a6a6a" text-anchor="middle" textLength="53.8" lengthAdjust="spacingAndGlyphs">Indonesia</text>
<text x="527.80" y="288.90" font-size="8.6" fill="#6a6a6a" text-anchor="middle" textLength="30.3" lengthAdjust="spacingAndGlyphs">Israel</text>
<text x="541.40" y="288.90" font-size="8.6" fill="#6a6a6a" text-anchor="middle" textLength="33.8" lengthAdjust="spacingAndGlyphs">Japón</text>
<text x="553.20" y="288.90" font-size="8.6" fill="#6a6a6a" text-anchor="middle" textLength="40.7" lengthAdjust="spacingAndGlyphs">Jordani</text>
<text x="553.20" y="301.40" font-size="8.6" fill="#6a6a6a" text-anchor="middle" textLength="6.9" lengthAdjust="spacingAndGlyphs">a</text>
<text x="563.30" y="288.90" font-size="8.6" fill="#6a6a6a" text-anchor="middle" textLength="37.2" lengthAdjust="spacingAndGlyphs">Kuwait</text>
<text x="575.90" y="288.90" font-size="8.6" fill="#6a6a6a" text-anchor="middle" textLength="37.9" lengthAdjust="spacingAndGlyphs">Líbano</text>
<text x="589.50" y="288.90" font-size="8.6" fill="#6a6a6a" text-anchor="middle" textLength="42.7" lengthAdjust="spacingAndGlyphs">Malasia</text>
<text x="603.10" y="288.90" font-size="8.6" fill="#6a6a6a" text-anchor="middle" textLength="33.8" lengthAdjust="spacingAndGlyphs">Omán</text>
<text x="616.70" y="288.90" font-size="8.6" fill="#6a6a6a" text-anchor="middle" textLength="47.6" lengthAdjust="spacingAndGlyphs">Pakistán</text>
<text x="630.30" y="288.90" font-size="8.6" fill="#6a6a6a" text-anchor="middle" textLength="31.0" lengthAdjust="spacingAndGlyphs">Qatar</text>
<text x="643.90" y="288.90" font-size="8.6" fill="#6a6a6a" text-anchor="middle" textLength="49.6" lengthAdjust="spacingAndGlyphs">Singapur</text>
<text x="657.50" y="288.90" font-size="8.6" fill="#6a6a6a" text-anchor="middle" textLength="52.4" lengthAdjust="spacingAndGlyphs">Sri Lanka</text>
<text x="671.40" y="288.90" font-size="8.6" fill="#6a6a6a" text-anchor="middle" textLength="48.9" lengthAdjust="spacingAndGlyphs">Tailandia</text>
<text x="685.50" y="288.90" font-size="8.6" fill="#6a6a6a" text-anchor="middle" textLength="38.6" lengthAdjust="spacingAndGlyphs">Taiwán</text>
<text x="699.20" y="288.90" font-size="8.6" fill="#6a6a6a" text-anchor="middle" textLength="42.3" lengthAdjust="spacingAndGlyphs">Turquía</text>
<text x="712.80" y="288.90" font-size="8.6" fill="#6a6a6a" text-anchor="middle" textLength="45.3" lengthAdjust="spacingAndGlyphs">Vietnam</text>
<text x="726.30" y="288.90" font-size="8.6" fill="#6a6a6a" text-anchor="middle" textLength="33.8" lengthAdjust="spacingAndGlyphs">Omán</text>
<text x="739.90" y="288.90" font-size="8.6" fill="#6a6a6a" text-anchor="middle" textLength="51.7" lengthAdjust="spacingAndGlyphs">Alemania</text>
<text x="752.90" y="288.90" font-size="8.6" fill="#6a6a6a" text-anchor="middle" textLength="38.6" lengthAdjust="spacingAndGlyphs">Austria</text>
<text x="766.50" y="288.90" font-size="8.6" fill="#6a6a6a" text-anchor="middle" textLength="40.7" lengthAdjust="spacingAndGlyphs">Bélgica</text>
<text x="777.50" y="288.90" font-size="8.6" fill="#6a6a6a" text-anchor="middle" textLength="31.0" lengthAdjust="spacingAndGlyphs">Bosni</text>
<text x="777.50" y="301.40" font-size="8.6" fill="#6a6a6a" text-anchor="middle" textLength="16.5" lengthAdjust="spacingAndGlyphs">a y</text>
<text x="777.50" y="313.90" font-size="8.6" fill="#6a6a6a" text-anchor="middle" textLength="26.2" lengthAdjust="spacingAndGlyphs">Herz</text>
<text x="777.50" y="326.40" font-size="8.6" fill="#6a6a6a" text-anchor="middle" textLength="29.6" lengthAdjust="spacingAndGlyphs">egovi</text>
<text x="777.50" y="338.90" font-size="8.6" fill="#6a6a6a" text-anchor="middle" textLength="13.8" lengthAdjust="spacingAndGlyphs">na</text>
<text x="786.00" y="288.90" font-size="8.6" fill="#6a6a6a" text-anchor="middle" textLength="45.5" lengthAdjust="spacingAndGlyphs">Bulgaria</text>
<text x="797.40" y="288.90" font-size="8.6" fill="#6a6a6a" text-anchor="middle" textLength="42.7" lengthAdjust="spacingAndGlyphs">Croacia</text>
<text x="810.30" y="288.90" font-size="8.6" fill="#6a6a6a" text-anchor="middle" textLength="36.5" lengthAdjust="spacingAndGlyphs">Chipre</text>
<text x="823.90" y="288.90" font-size="8.6" fill="#6a6a6a" text-anchor="middle" textLength="60.0" lengthAdjust="spacingAndGlyphs">Dinamarca</text>
<text x="837.00" y="288.90" font-size="8.6" fill="#6a6a6a" text-anchor="middle" textLength="51.0" lengthAdjust="spacingAndGlyphs">Eslovaqu</text>
<text x="837.00" y="301.40" font-size="8.6" fill="#6a6a6a" text-anchor="middle" textLength="9.7" lengthAdjust="spacingAndGlyphs">ia</text>
<text x="847.40" y="288.90" font-size="8.6" fill="#6a6a6a" text-anchor="middle" textLength="53.8" lengthAdjust="spacingAndGlyphs">Eslovenia</text>
<text x="861.00" y="288.90" font-size="8.6" fill="#6a6a6a" text-anchor="middle" textLength="42.1" lengthAdjust="spacingAndGlyphs">España</text>
<text x="874.60" y="288.90" font-size="8.6" fill="#6a6a6a" text-anchor="middle" textLength="41.4" lengthAdjust="spacingAndGlyphs">Estonia</text>
<text x="887.60" y="288.90" font-size="8.6" fill="#6a6a6a" text-anchor="middle" textLength="50.3" lengthAdjust="spacingAndGlyphs">Finlandia</text>
<text x="899.90" y="288.90" font-size="8.6" fill="#6a6a6a" text-anchor="middle" textLength="41.3" lengthAdjust="spacingAndGlyphs">Francia</text>
<text x="913.20" y="288.90" font-size="8.6" fill="#6a6a6a" text-anchor="middle" textLength="36.5" lengthAdjust="spacingAndGlyphs">Grecia</text>
<text x="926.40" y="288.90" font-size="8.6" fill="#6a6a6a" text-anchor="middle" textLength="44.1" lengthAdjust="spacingAndGlyphs">Hungría</text>
<text x="938.70" y="288.90" font-size="8.6" fill="#6a6a6a" text-anchor="middle" textLength="37.9" lengthAdjust="spacingAndGlyphs">Irlanda</text>
<text x="951.70" y="288.90" font-size="8.6" fill="#6a6a6a" text-anchor="middle" textLength="42.7" lengthAdjust="spacingAndGlyphs">Islandia</text>
<text x="965.30" y="288.90" font-size="8.6" fill="#6a6a6a" text-anchor="middle" textLength="26.2" lengthAdjust="spacingAndGlyphs">Italia</text>
<text x="978.90" y="288.90" font-size="8.6" fill="#6a6a6a" text-anchor="middle" textLength="40.7" lengthAdjust="spacingAndGlyphs">Letonia</text>
<text x="990.60" y="288.90" font-size="8.6" fill="#6a6a6a" text-anchor="middle" textLength="43.4" lengthAdjust="spacingAndGlyphs">Lituania</text>
<text x="1002.50" y="288.90" font-size="8.6" fill="#6a6a6a" text-anchor="middle" textLength="51.0" lengthAdjust="spacingAndGlyphs">Luxembu</text>
<text x="1002.50" y="301.40" font-size="8.6" fill="#6a6a6a" text-anchor="middle" textLength="17.9" lengthAdjust="spacingAndGlyphs">rgo</text>
<text x="1011.60" y="288.90" font-size="8.6" fill="#6a6a6a" text-anchor="middle" textLength="30.3" lengthAdjust="spacingAndGlyphs">Malta</text>
<text x="1023.30" y="288.90" font-size="8.6" fill="#6a6a6a" text-anchor="middle" textLength="66.2" lengthAdjust="spacingAndGlyphs">Montenegro</text>
<text x="1036.90" y="288.90" font-size="8.6" fill="#6a6a6a" text-anchor="middle" textLength="47.6" lengthAdjust="spacingAndGlyphs">Noruega</text>
<text x="1050.50" y="288.90" font-size="8.6" fill="#6a6a6a" text-anchor="middle" textLength="41.4" lengthAdjust="spacingAndGlyphs">Polonia</text>
<text x="1063.00" y="288.90" font-size="8.6" fill="#6a6a6a" text-anchor="middle" textLength="32.4" lengthAdjust="spacingAndGlyphs">Reino</text>
<text x="1063.00" y="301.40" font-size="8.6" fill="#6a6a6a" text-anchor="middle" textLength="32.4" lengthAdjust="spacingAndGlyphs">Unido</text>
<text x="1077.40" y="288.90" font-size="8.6" fill="#6a6a6a" text-anchor="middle" textLength="46.2" lengthAdjust="spacingAndGlyphs">Portugal</text>
<text x="1089.50" y="288.90" font-size="8.6" fill="#6a6a6a" text-anchor="middle" textLength="55.1" lengthAdjust="spacingAndGlyphs">República</text>
<text x="1089.50" y="301.40" font-size="8.6" fill="#6a6a6a" text-anchor="middle" textLength="35.8" lengthAdjust="spacingAndGlyphs">Checa</text>
<text x="1102.50" y="288.90" font-size="8.6" fill="#6a6a6a" text-anchor="middle" textLength="49.6" lengthAdjust="spacingAndGlyphs">Rumania</text>
<text x="1091.00" y="288.90" font-size="8.6" fill="#6a6a6a" text-anchor="middle"></text>
<text x="1091.00" y="301.40" font-size="8.6" fill="#6a6a6a" text-anchor="middle" textLength="50.3" lengthAdjust="spacingAndGlyphs">Eslovaca</text>
<text x="1114.80" y="288.90" font-size="8.6" fill="#6a6a6a" text-anchor="middle" textLength="31.7" lengthAdjust="spacingAndGlyphs">Rusia</text>
<text x="1126.50" y="288.90" font-size="8.6" fill="#6a6a6a" text-anchor="middle" textLength="35.8" lengthAdjust="spacingAndGlyphs">Serbia</text>
<text x="1138.20" y="288.90" font-size="8.6" fill="#6a6a6a" text-anchor="middle" textLength="37.9" lengthAdjust="spacingAndGlyphs">Suecia</text>
<text x="1151.80" y="288.90" font-size="8.6" fill="#6a6a6a" text-anchor="middle" textLength="31.0" lengthAdjust="spacingAndGlyphs">Suiza</text>
<text x="1165.40" y="288.90" font-size="8.6" fill="#6a6a6a" text-anchor="middle" textLength="42.7" lengthAdjust="spacingAndGlyphs">Ucrania</text>
<text x="1179.00" y="288.90" font-size="8.6" fill="#6a6a6a" text-anchor="middle" textLength="48.2" lengthAdjust="spacingAndGlyphs">Australia</text>
<text x="1190.50" y="288.90" font-size="8.6" fill="#6a6a6a" text-anchor="middle" textLength="35.8" lengthAdjust="spacingAndGlyphs">Nueva</text>
<text x="1190.50" y="301.40" font-size="8.6" fill="#6a6a6a" text-anchor="middle" textLength="47.6" lengthAdjust="spacingAndGlyphs">Zelandia</text>
<text x="191.40" y="357.80" font-size="8.3" fill="#595959" text-anchor="middle" textLength="32.5" lengthAdjust="spacingAndGlyphs">África</text>
<text x="336.60" y="357.80" font-size="8.3" fill="#595959" text-anchor="middle" textLength="46.0" lengthAdjust="spacingAndGlyphs">América</text>
<text x="569.30" y="357.80" font-size="8.3" fill="#595959" text-anchor="middle" textLength="22.5" lengthAdjust="spacingAndGlyphs">Asia</text>
<text x="953.20" y="357.80" font-size="8.3" fill="#595959" text-anchor="middle" textLength="39.5" lengthAdjust="spacingAndGlyphs">Europa</text>
<text x="1185.40" y="357.80" font-size="8.3" fill="#595959" text-anchor="middle" textLength="46.8" lengthAdjust="spacingAndGlyphs">Oceania</text>
<rect x="599.3" y="373" width="6.3" height="6" fill="#22336a"/>
<text x="610.50" y="379.00" font-size="8.3" fill="#595959" text-anchor="start" textLength="27.0" lengthAdjust="spacingAndGlyphs">Total</text>
<rect x="20.5" y="472.5" width="244" height="15.6" fill="#fff" stroke="#000" stroke-width="1.2"/>
<rect x="21" y="473" width="115.8" height="14.8" fill="#22336a"/>
<text x="23.80" y="484.00" font-size="11" fill="#fff" text-anchor="start" textLength="48.0" lengthAdjust="spacingAndGlyphs">Índices</text>
<text x="140.00" y="484.00" font-size="11" fill="#000" text-anchor="start" textLength="19.5" lengthAdjust="spacingAndGlyphs">All</text>
<rect x="246" y="474" width="18" height="12" fill="#f3f5f8"/>
<path d="M246.5 474V485.5H263.5V474" fill="none" stroke="#8a939e" stroke-width="1"/>
<path d="M251.2 477.6H258.8L255.0 480.8Z" fill="#444"/>
<rect x="20" y="504" width="421" height="32.5" fill="#22336a"/>
<path d="M20.6 651V504.4H440.8V651" fill="none" stroke="#000" stroke-width="1.3"/>
<path d="M319.5 504V651" stroke="#000" stroke-width="1.1"/>
<text x="23.60" y="517.00" font-size="10.5" fill="#fff" text-anchor="start" textLength="46.5" lengthAdjust="spacingAndGlyphs">Cierre.</text>
<text x="23.60" y="532.80" font-size="10.5" fill="#fff" text-anchor="start" textLength="78.0" lengthAdjust="spacingAndGlyphs">Continente</text>
<rect x="119" y="522" width="18" height="13" fill="#f3f5f8"/>
<path d="M119.5 522V534.5H136.5V522" fill="none" stroke="#8a939e" stroke-width="1"/>
<path d="M124.2 525.6H131.8L128.0 528.8Z" fill="#444"/>
<text x="140.60" y="532.80" font-size="10.5" fill="#fff" text-anchor="start" textLength="29.0" lengthAdjust="spacingAndGlyphs">Pais</text>
<text x="267.30" y="532.80" font-size="10.5" fill="#fff" text-anchor="start" textLength="29.0" lengthAdjust="spacingAndGlyphs">Año</text>
<rect x="301.4" y="521.7" width="17.200000000000045" height="12.899999999999977" fill="#f3f5f8"/>
<path d="M301.9 521.7V534.1H318.1V521.7" fill="none" stroke="#8a939e" stroke-width="1"/>
<path d="M306.2 525.3000000000001H313.8L310.0 528.5Z" fill="#444"/>
<text x="322.50" y="532.80" font-size="10.5" fill="#fff" text-anchor="start" textLength="36.0" lengthAdjust="spacingAndGlyphs">Total</text>
<rect x="25.5" y="541.5" width="8.6" height="6.2" rx="0.6" fill="#f7f9fc" stroke="#a9b9d9" stroke-width="0.9"/>
<path d="M27.2 544.6H32.6" stroke="#2b3a6e" stroke-width="1"/>
<text x="37.20" y="548.60" font-size="11" fill="#000" text-anchor="start" textLength="41.0" lengthAdjust="spacingAndGlyphs">África</text>
<text x="141.00" y="548.60" font-size="11" fill="#000" text-anchor="start" textLength="62.5" lengthAdjust="spacingAndGlyphs">Botsuana</text>
<rect x="269.9" y="541.7" width="8.6" height="6.2" rx="0.6" fill="#f7f9fc" stroke="#a9b9d9" stroke-width="0.9"/>
<path d="M271.59999999999997 544.8000000000001H277.0" stroke="#2b3a6e" stroke-width="1"/>
<path d="M274.29999999999995 542.5V547.1" stroke="#2b3a6e" stroke-width="1"/>
<text x="281.40" y="548.70" font-size="11" fill="#000" text-anchor="start" textLength="31.5" lengthAdjust="spacingAndGlyphs">2001</text>
<text x="437.30" y="548.70" font-size="11" fill="#000" text-anchor="end" textLength="45.8" lengthAdjust="spacingAndGlyphs">683.77</text>
<rect x="269.9" y="557.6" width="8.6" height="6.2" rx="0.6" fill="#f7f9fc" stroke="#a9b9d9" stroke-width="0.9"/>
<path d="M271.59999999999997 560.7H277.0" stroke="#2b3a6e" stroke-width="1"/>
<path d="M274.29999999999995 558.4V563.0" stroke="#2b3a6e" stroke-width="1"/>
<text x="281.40" y="564.60" font-size="11" fill="#000" text-anchor="start" textLength="31.5" lengthAdjust="spacingAndGlyphs">2002</text>
<text x="437.30" y="564.60" font-size="11" fill="#000" text-anchor="end" textLength="45.8" lengthAdjust="spacingAndGlyphs">492.12</text>
<rect x="269.9" y="573.4" width="8.6" height="6.2" rx="0.6" fill="#f7f9fc" stroke="#a9b9d9" stroke-width="0.9"/>
<path d="M271.59999999999997 576.5H277.0" stroke="#2b3a6e" stroke-width="1"/>
<path d="M274.29999999999995 574.1999999999999V578.8" stroke="#2b3a6e" stroke-width="1"/>
<text x="281.40" y="580.40" font-size="11" fill="#000" text-anchor="start" textLength="31.5" lengthAdjust="spacingAndGlyphs">2003</text>
<text x="437.30" y="580.40" font-size="11" fill="#000" text-anchor="end" textLength="45.8" lengthAdjust="spacingAndGlyphs">567.34</text>
<rect x="269.9" y="589.7" width="8.6" height="6.2" rx="0.6" fill="#f7f9fc" stroke="#a9b9d9" stroke-width="0.9"/>
<path d="M271.59999999999997 592.8000000000001H277.0" stroke="#2b3a6e" stroke-width="1"/>
<path d="M274.29999999999995 590.5V595.1" stroke="#2b3a6e" stroke-width="1"/>
<text x="281.40" y="596.70" font-size="11" fill="#000" text-anchor="start" textLength="31.5" lengthAdjust="spacingAndGlyphs">2004</text>
<text x="437.30" y="596.70" font-size="11" fill="#000" text-anchor="end" textLength="45.8" lengthAdjust="spacingAndGlyphs">634.71</text>
<rect x="269.9" y="606.3" width="8.6" height="6.2" rx="0.6" fill="#f7f9fc" stroke="#a9b9d9" stroke-width="0.9"/>
<path d="M271.59999999999997 609.4H277.0" stroke="#2b3a6e" stroke-width="1"/>
<path d="M274.29999999999995 607.0999999999999V611.6999999999999" stroke="#2b3a6e" stroke-width="1"/>
<text x="281.40" y="613.30" font-size="11" fill="#000" text-anchor="start" textLength="31.5" lengthAdjust="spacingAndGlyphs">2005</text>
<text x="437.30" y="613.30" font-size="11" fill="#000" text-anchor="end" textLength="58.6" lengthAdjust="spacingAndGlyphs">1,129.94</text>
<rect x="269.9" y="622.4" width="8.6" height="6.2" rx="0.6" fill="#f7f9fc" stroke="#a9b9d9" stroke-width="0.9"/>
<path d="M271.59999999999997 625.5H277.0" stroke="#2b3a6e" stroke-width="1"/>
<path d="M274.29999999999995 623.1999999999999V627.8" stroke="#2b3a6e" stroke-width="1"/>
<text x="281.40" y="629.40" font-size="11" fill="#000" text-anchor="start" textLength="31.5" lengthAdjust="spacingAndGlyphs">2006</text>
<text x="437.30" y="629.40" font-size="11" fill="#000" text-anchor="end" textLength="58.6" lengthAdjust="spacingAndGlyphs">1,777.30</text>
<rect x="269.9" y="638.4" width="8.6" height="6.2" rx="0.6" fill="#f7f9fc" stroke="#a9b9d9" stroke-width="0.9"/>
<path d="M271.59999999999997 641.5H277.0" stroke="#2b3a6e" stroke-width="1"/>
<path d="M274.29999999999995 639.1999999999999V643.8" stroke="#2b3a6e" stroke-width="1"/>
<text x="281.40" y="645.40" font-size="11" fill="#000" text-anchor="start" textLength="31.5" lengthAdjust="spacingAndGlyphs">2007</text>
<text x="437.30" y="645.40" font-size="11" fill="#000" text-anchor="end" textLength="58.6" lengthAdjust="spacingAndGlyphs">2,200.97</text>
<rect x="0.5" y="0.5" width="1213" height="650" fill="none" stroke="#808080" stroke-width="1"/>
<rect x="0" y="85" width="20" height="2" fill="#000"/>
</svg>
</body></html>
